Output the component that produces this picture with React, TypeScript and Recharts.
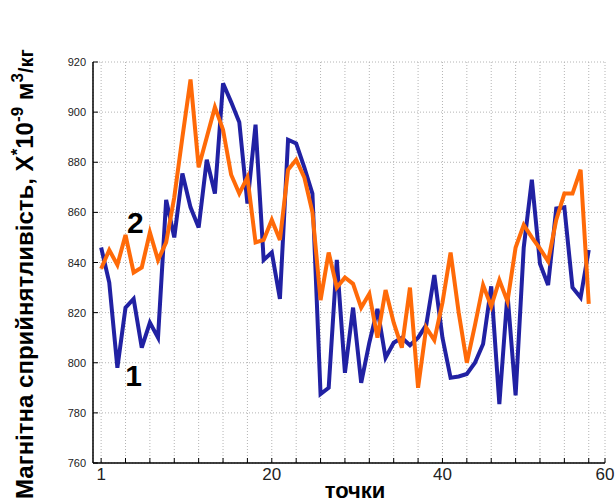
import { LineChart, Line, XAxis, YAxis, CartesianGrid, ReferenceDot } from 'recharts';

// point numbers along the profile
const points = Array.from({ length: 61 }, (_, i) => i + 1);

// curve 1 (blue)
const curve1 = [
  846, 832, 798, 822, 825.5, 806, 816, 810, 865, 850,
  875.5, 862, 854, 881, 867.5, 911.5, 904, 896, 863.5, 895,
  841, 844, 825.5, 889, 887.5, 878, 867.5, 787.5, 790, 841,
  796, 822, 792, 808, 821.5, 802, 808, 810, 807, 810,
  815, 835, 810, 794, 794.5, 795.5, 800, 807.5, 830.5, 783.5,
  827.5, 787, 846, 873, 839.5, 831, 861.5, 862, 830, 826,
  845,
];

// curve 2 (orange)
const curve2 = [
  837.5, 845, 839, 851, 836, 838, 852, 841, 848, 866,
  890, 913, 878, 890, 902, 893, 875, 867.5, 874, 848,
  849, 857, 849, 877, 881, 874, 860, 825, 844, 830,
  834, 831.5, 822, 827.5, 810, 829, 816, 806, 830, 790,
  814, 809, 824, 844, 820, 800, 815, 831, 822.5, 833,
  824.5, 846, 855, 850, 845.5, 840.5, 857, 867.5, 867.5, 877,
  823.5,
];

const yTicks = [760, 780, 800, 820, 840, 860, 880, 900, 920];
const xTicks = [1, 4, 7, 10, 13, 16, 19, 22, 25, 28, 31, 34, 37, 40, 43, 46, 49, 52, 55, 58, 61, 63];
const xTickLabels: Record<number, string> = { 1: '1', 22: '20', 43: '40', 63: '60' };

const curveLabels = [
  { text: '1', x: 5, y: 795 },
  { text: '2', x: 5.2, y: 856 },
];

const data = points.map((n, i) => ({ n, c1: curve1[i], c2: curve2[i] }));

const FONT = "Arial, 'Liberation Sans', sans-serif";

function XTick({ x, y, payload }: any) {
  const label = xTickLabels[payload.value];
  return (
    <g>
      <line x1={x} x2={x} y1={y - 5} y2={y - 10} stroke="#000" />
      {label && (
        <text x={x} y={y} dy={12} textAnchor="middle" fontSize={17} fontFamily={FONT} fill="#222">
          {label}
        </text>
      )}
    </g>
  );
}

function YTick({ x, y, payload }: any) {
  return (
    <g>
      <line x1={x + 7} x2={x + 12} y1={y} y2={y} stroke="#000" />
      <text x={x} y={y} dy={4} textAnchor="end" fontSize={11} fontFamily={FONT} fill="#222">
        {payload.value}
      </text>
    </g>
  );
}

export default function App() {
  return (
    <div style={{ position: 'relative', width: 616, height: 502, background: '#fff' }}>
      <style>{'body{margin:0}'}</style>
      <LineChart
        width={616}
        height={502}
        data={data}
        margin={{ top: 62, right: 11, bottom: 9, left: 33 }}
      >
        <CartesianGrid stroke="#b4b4b4" strokeDasharray="1 2" />
        <XAxis
          dataKey="n"
          type="number"
          domain={[0, 63]}
          ticks={xTicks}
          interval={0}
          height={30}
          tickSize={0}
          tickMargin={5}
          tickLine={false}
          tick={<XTick />}
          axisLine={{ stroke: '#000', strokeWidth: 1.5 }}
        />
        <XAxis
          xAxisId="top"
          orientation="top"
          type="number"
          domain={[0, 63]}
          ticks={xTicks}
          interval={0}
          mirror
          height={0}
          tick={false}
          tickSize={5}
          tickLine={{ stroke: '#000' }}
          axisLine={{ stroke: '#000', strokeWidth: 1.5 }}
        />
        <YAxis
          domain={[760, 920]}
          ticks={yTicks}
          interval={0}
          width={60}
          tickSize={0}
          tickMargin={7}
          tickLine={false}
          tick={<YTick />}
          axisLine={{ stroke: '#000', strokeWidth: 1.5 }}
        />
        <YAxis
          yAxisId="right"
          orientation="right"
          domain={[760, 920]}
          ticks={yTicks}
          interval={0}
          mirror
          width={0}
          tick={false}
          tickSize={5}
          tickLine={{ stroke: '#000' }}
          axisLine={{ stroke: '#000', strokeWidth: 1.5 }}
        />
        <Line
          dataKey="c1"
          stroke="#2121a3"
          strokeWidth={4}
          dot={false}
          isAnimationActive={false}
        />
        <Line
          dataKey="c2"
          stroke="#ff6a08"
          strokeWidth={4}
          dot={false}
          isAnimationActive={false}
        />
        {curveLabels.map((l) => (
          <ReferenceDot
            key={l.text}
            x={l.x}
            y={l.y}
            r={0}
            fill="none"
            stroke="none"
            label={{ value: l.text, position: 'center', fontSize: 30, fontWeight: 'bold', fill: '#000', fontFamily: FONT }}
          />
        ))}
      </LineChart>
      <svg
        width={616}
        height={502}
        style={{ position: 'absolute', left: 0, top: 0, pointerEvents: 'none' }}
      >
        <text
          transform="translate(33,499) rotate(-90)"
          fontSize={24}
          fontWeight="bold"
          fontFamily={FONT}
          fill="#000"
        >
          Магнітна сприйнятливість, Х
          <tspan dy={-10} fontSize={17}>*</tspan>
          <tspan dy={10}>10</tspan>
          <tspan dy={-10} fontSize={17}>-9</tspan>
          <tspan dy={10}>{' м'}</tspan>
          <tspan dy={-10} fontSize={17}>3</tspan>
          <tspan dy={10} fontSize={20}>/кг</tspan>
        </text>
        <text x={355} y={498} textAnchor="middle" fontSize={22} fontWeight="bold" fontFamily={FONT} fill="#000">
          точки
        </text>
      </svg>
    </div>
  );
}
